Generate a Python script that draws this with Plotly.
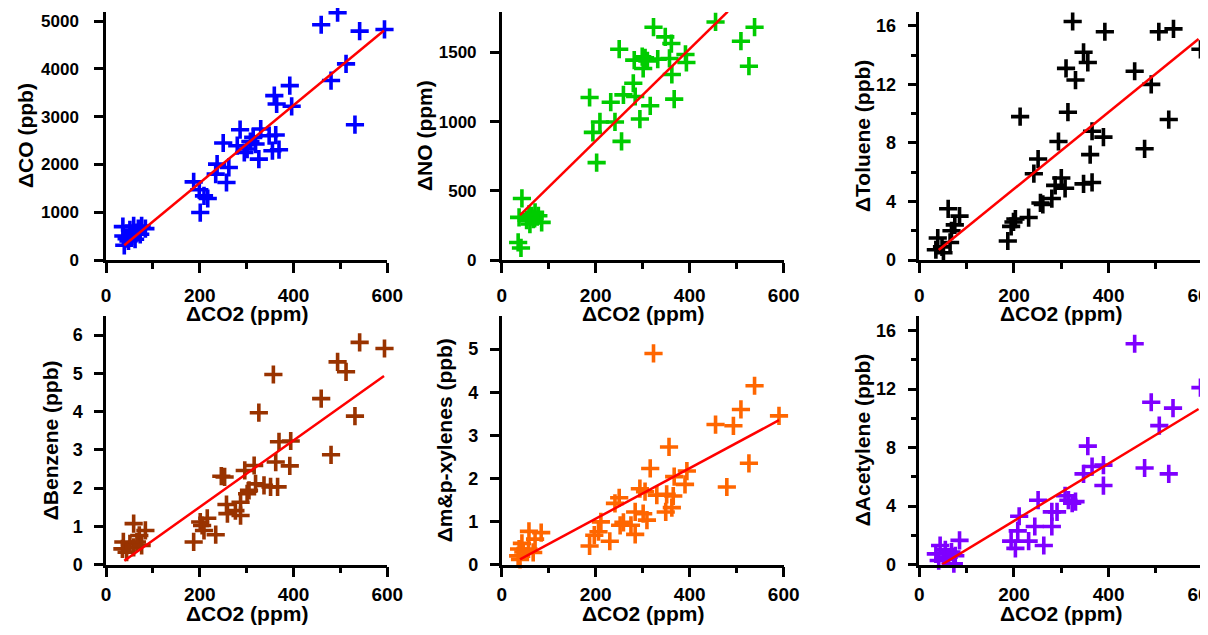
import plotly.graph_objects as go

# ---------------- data ----------------
co_x = [494, 459, 541, 594, 512, 480, 531, 392, 396, 359, 364, 286, 330, 250, 314, 280, 301, 319,
        348, 362, 355, 369, 326, 262, 237, 234, 257, 187, 199, 209, 217, 201, 295, 308,
        36, 59, 76, 84, 37, 44, 39, 55, 66, 62, 73, 51, 69, 48]
co_y = [5175, 4923, 4790, 4825, 4105, 3755, 2832, 3650, 3217, 3440, 3265, 2727, 2741, 2448, 2566, 2392, 2322, 2427,
        2601, 2615, 2287, 2308, 2112, 1937, 2007, 1797, 1622, 1636, 1469, 1343, 1287, 993, 2250, 2480,
        699, 713, 713, 657, 503, 448, 308, 503, 573, 434, 538, 629, 657, 399]

no_x = [455, 509, 538, 526, 323, 348, 361, 250, 282, 305, 332, 357, 391, 393, 301, 362, 280, 259, 284,
        187, 232, 316, 367, 294, 209, 241, 194, 255, 202, 310, 299,
        43, 37, 53, 64, 71, 78, 85, 60, 67, 35, 41, 70, 58]
no_y = [1721, 1582, 1683, 1401, 1683, 1613, 1565, 1524, 1445, 1462, 1452, 1457, 1486, 1428, 1385, 1341, 1278, 1194, 1182,
        1175, 1141, 1115, 1163, 1019, 998, 998, 923, 858, 704, 1440, 1470,
        445, 308, 288, 320, 344, 320, 272, 260, 296, 127, 87, 300, 330]

tol_x = [324, 392, 506, 537, 594, 347, 356, 310, 330, 455, 490, 314, 213, 527, 365, 389, 294, 476, 361,
         251, 242, 347, 365, 300, 287, 308, 280, 256, 261, 231, 203, 199, 194, 187,
         61, 85, 75, 68, 39, 65, 35, 51, 48]
tol_y = [16.3, 15.6, 15.6, 15.8, 14.4, 14.2, 13.5, 13.1, 12.3, 12.9, 12.0, 10.1, 9.8, 9.6, 8.8, 8.4, 8.1, 7.6, 7.2,
         6.9, 5.9, 5.2, 5.3, 5.6, 5.1, 4.9, 4.2, 3.9, 3.8, 2.9, 2.8, 2.6, 2.3, 1.3,
         3.5, 3.0, 2.4, 2.0, 1.5, 1.2, 0.7, 0.5, 0.9]

ben_x = [541, 594, 494, 512, 357, 459, 531, 326, 480, 369, 394, 362, 392, 316, 296, 246, 253, 319, 337,
         351, 366, 305, 301, 257, 287, 276, 259, 287, 216, 201, 205, 209, 234, 187,
         59, 84, 71, 37, 51, 66, 35, 44, 59, 76]
ben_y = [5.81, 5.65, 5.30, 5.04, 4.97, 4.34, 3.88, 3.97, 2.87, 3.21, 3.23, 2.68, 2.58, 2.59, 2.46, 2.31, 2.29, 2.11, 2.07,
         2.03, 2.03, 1.94, 1.85, 1.57, 1.63, 1.41, 1.33, 1.28, 1.21, 1.11, 1.02, 0.89, 0.78, 0.59,
         1.07, 0.89, 0.76, 0.59, 0.54, 0.59, 0.41, 0.32, 0.45, 0.50]

xyl_x = [323, 538, 509, 590, 455, 493, 356, 526, 316, 394, 367, 390, 479, 294, 305, 330, 351, 365, 250,
         241, 362, 349, 284, 301, 309, 259, 275, 252, 211, 206, 197, 284, 230, 187,
         58, 84, 71, 43, 37, 57, 67, 35, 46, 39]
xyl_y = [4.90, 4.15, 3.60, 3.45, 3.25, 3.22, 2.73, 2.35, 2.23, 2.17, 2.04, 1.86, 1.80, 1.76, 1.69, 1.61, 1.63, 1.59, 1.55,
         1.42, 1.32, 1.22, 1.22, 1.18, 1.03, 0.98, 0.91, 0.91, 0.99, 0.76, 0.68, 0.70, 0.54, 0.43,
         0.77, 0.74, 0.59, 0.49, 0.36, 0.36, 0.28, 0.20, 0.29, 0.12]

ace_x = [455, 594, 490, 536, 507, 356, 365, 389, 347, 476, 527, 389, 251, 308, 315, 330, 323, 291, 280,
         211, 208, 244, 280, 194, 231, 263, 203,
         85, 44, 55, 68, 35, 51, 41, 73, 62, 76]
ace_y = [15.1, 12.1, 11.1, 10.7, 9.5, 8.1, 6.7, 6.8, 6.2, 6.6, 6.2, 5.4, 4.4, 4.7, 4.4, 4.3, 4.2, 3.6, 3.6,
         3.3, 2.3, 2.6, 2.6, 1.6, 1.6, 1.3, 1.1,
         1.65, 1.3, 1.0, 0.85, 0.73, 0.39, 0.27, 0.05, 0.5, 0.6]

# fitted lines (end points)
fit_x = [[39, 593], [39, 481], [41, 590], [39, 593], [39, 590], [48, 590]]
fit_y = [[308, 4804], [325, 1796], [0.68, 15.1], [0.10, 4.93], [0.12, 3.35], [0.0, 10.64]]

y_titles = ["ΔCO (ppb)", "ΔNO (ppm)", "ΔToluene (ppb)",
            "ΔBenzene (ppb)", "Δm&p-xylenes (ppb)", "ΔAcetylene (ppb)"]
x_title = "ΔCO2 (ppm)"
colors = ["#0000FF", "#00CC00", "#000000", "#993300", "#FF6600", "#7F00FF"]
y_ranges = [[0, 5190], [0, 1793], [0, 16.95], [0, 6.5], [0, 5.77], [0, 17.0]]
y_dticks = [1000, 500, 4, 1, 1, 4]
y_minor = [None, None, 2, None, None, 2]
y_tfsize = [17, 17, 18, 18, 18, 18]
y_lblgap = [12, 10, 8, 8, 8, 8]

series = [(co_x, co_y), (no_x, no_y), (tol_x, tol_y),
          (ben_x, ben_y), (xyl_x, xyl_y), (ace_x, ace_y)]

# ---------------- layout geometry (page pixels) ----------------
OFF = 8                      # default page body margin
W, H = 1200, 627             # figure size so that page = 1208 x 635
col_px = [(106, 387.3), (501.7, 783.7), (919.3, 1203.3)]
row_px = [(12, 260), (316, 564.5)]
ytitle_px = [25, 424, 862, 50, 444, 862]
xtitle_py = [313, 613]
xlbl_standoff = [6, 1]

def fx(px):
    return (px - OFF) / W

def fy(py):
    return 1 - (py - OFF) / H

font_family = "Liberation Sans, Arial, sans-serif"
title_font = dict(size=21, family=font_family, weight="bold", color="black")

fig = go.Figure()
layout = dict(
    width=W, height=H,
    margin=dict(l=0, r=0, t=0, b=0, autoexpand=False),
    paper_bgcolor="white", plot_bgcolor="white",
    showlegend=False,
    font=dict(family=font_family, color="black"),
)
annotations = []

for i in range(6):
    r, c = divmod(i, 3)
    sfx = "" if i == 0 else str(i + 1)
    xs, ys = series[i]
    fig.add_trace(go.Scatter(
        x=xs, y=ys, mode="markers", cliponaxis=False,
        marker=dict(symbol="cross-thin", size=13, color=colors[i],
                    line=dict(width=3.6, color=colors[i])),
        xaxis="x" + sfx, yaxis="y" + sfx, hoverinfo="skip"))
    fig.add_trace(go.Scatter(
        x=fit_x[i], y=fit_y[i], mode="lines",
        line=dict(color="#FF0000", width=2.5),
        xaxis="x" + sfx, yaxis="y" + sfx, hoverinfo="skip"))

    x0, x1 = col_px[c]
    yt, yb = row_px[r]
    xa = dict(
        domain=[fx(x0), fx(x1)], range=[0, 600], anchor="y" + sfx, automargin=False,
        showgrid=False, zeroline=False, showline=True, linecolor="black", linewidth=2.5,
        ticks="outside", ticklen=10, tickwidth=2.5, tickcolor="black", dtick=200, tick0=0,
        minor=dict(dtick=100, ticks="outside", ticklen=6, tickwidth=2.5, tickcolor="black", showgrid=False),
        tickfont=dict(size=19, family=font_family, weight="bold", color="black"),
        ticklabelstandoff=xlbl_standoff[r], ticklabeloverflow="allow",
        fixedrange=True,
    )
    ya = dict(
        domain=[fy(yb), fy(yt)], range=y_ranges[i], anchor="x" + sfx, automargin=False,
        showgrid=False, zeroline=False, showline=True, linecolor="black", linewidth=2.5,
        ticks="outside", ticklen=9, tickwidth=2.5, tickcolor="black", dtick=y_dticks[i], tick0=0,
        tickfont=dict(size=y_tfsize[i], family=font_family, weight="bold", color="black"),
        ticklabelstandoff=y_lblgap[i],
        fixedrange=True,
    )
    if y_minor[i]:
        ya["minor"] = dict(dtick=y_minor[i], ticks="outside", ticklen=6, tickwidth=2.5,
                           tickcolor="black", showgrid=False)
    layout["xaxis" + sfx] = xa
    layout["yaxis" + sfx] = ya

    # axis titles
    annotations.append(dict(
        text=x_title, xref="paper", yref="paper",
        x=fx((x0 + x1) / 2), y=fy(xtitle_py[r]), xanchor="center", yanchor="middle",
        showarrow=False, font=title_font))
    annotations.append(dict(
        text=y_titles[i], xref="paper", yref="paper", textangle=-90,
        x=fx(ytitle_px[i]), y=fy((yt + yb) / 2), xanchor="center", yanchor="middle",
        showarrow=False, font=title_font))

layout["annotations"] = annotations
fig.update_layout(**layout)
fig.write_html("out.html")
